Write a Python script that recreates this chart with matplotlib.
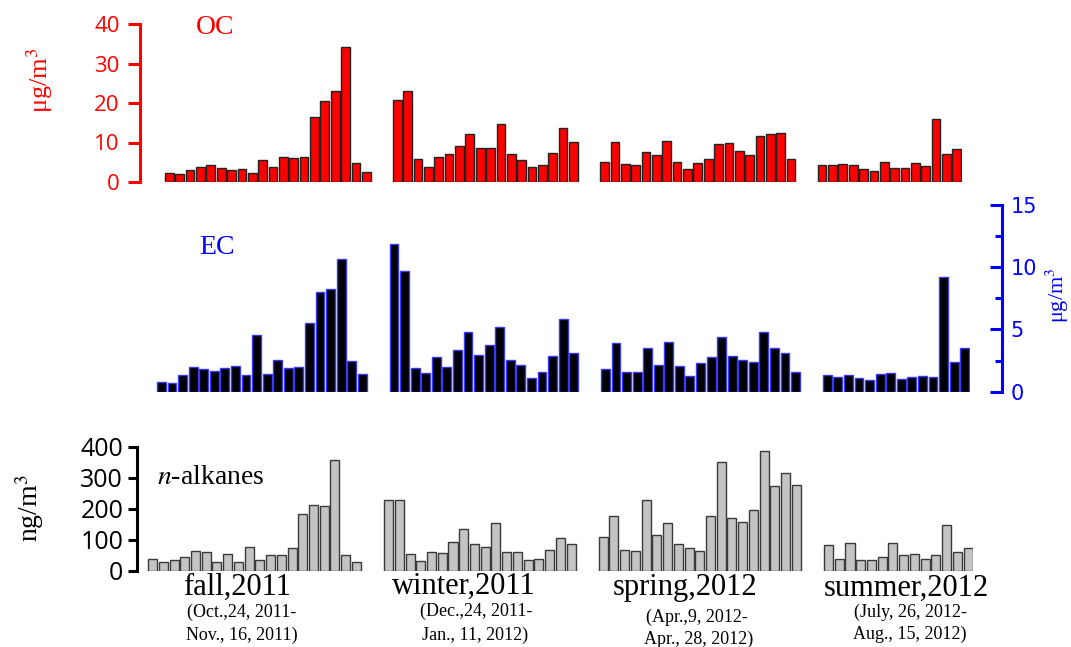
import numpy as np
import matplotlib
matplotlib.use("Agg")
import matplotlib.pyplot as plt

plt.rcParams['mathtext.fontset'] = 'stix'

# daily concentrations per season (OC, EC in ug/m3, n-alkanes in ng/m3)
oc_fall = [2.4, 1.9, 3.0, 3.8, 4.4, 3.5, 3.1, 3.2, 2.3, 5.6, 3.7, 6.4, 6.2, 6.3, 16.4, 20.6, 23.1, 34.1, 4.8, 2.5]
oc_winter = [20.7, 23.0, 5.9, 3.9, 6.3, 7.0, 9.1, 12.1, 8.5, 8.5, 14.8, 7.2, 5.6, 3.9, 4.3, 7.3, 13.7, 10.1]
oc_spring = [5.1, 10.1, 4.6, 4.4, 7.5, 6.8, 10.4, 5.1, 3.3, 4.9, 5.9, 9.7, 9.9, 7.9, 6.9, 11.6, 12.1, 12.3, 5.9]
oc_summer = [4.3, 4.4, 4.6, 4.4, 3.2, 2.9, 5.1, 3.6, 3.5, 4.9, 4.1, 16.0, 7.2, 8.4]

ec_fall = [0.75, 0.67, 1.34, 2.0, 1.82, 1.66, 1.9, 2.1, 1.37, 4.58, 1.45, 2.57, 1.9, 1.96, 5.5, 8.0, 8.27, 10.66, 2.44, 1.42]
ec_winter = [11.9, 9.72, 1.93, 1.47, 2.78, 1.98, 3.35, 4.76, 2.95, 3.75, 5.2, 2.57, 2.17, 1.1, 1.61, 2.9, 5.81, 3.08]
ec_spring = [1.8, 3.94, 1.61, 1.58, 3.53, 2.12, 4.02, 2.06, 1.24, 2.28, 2.79, 4.39, 2.84, 2.52, 2.39, 4.77, 3.49, 3.14, 1.61]
ec_summer = [1.34, 1.18, 1.34, 1.13, 0.92, 1.39, 1.53, 1.02, 1.21, 1.29, 1.21, 9.25, 2.39, 3.52]

alk_fall = [37, 29, 35, 44, 64, 60, 29, 54, 27, 75, 34, 50, 52, 73, 182, 213, 210, 357, 50, 29]
alk_winter = [227, 227, 55, 31, 60, 56, 93, 133, 86, 76, 153, 60, 60, 34, 39, 67, 104, 86]
alk_spring = [110, 175, 66, 63, 227, 116, 153, 86, 73, 63, 175, 350, 169, 156, 197, 385, 272, 316, 275]
alk_summer = [82, 37, 90, 34, 35, 43, 90, 50, 53, 39, 50, 146, 59, 72]

season_names = ['fall,2011', 'winter,2011', 'spring,2012', 'summer,2012']
season_dates = [('(Oct.,24, 2011-', 'Nov., 16, 2011)'),
                ('(Dec.,24, 2011-', 'Jan., 11, 2012)'),
                ('(Apr.,9, 2012-', 'Apr., 28, 2012)'),
                ('(July, 26, 2012-', 'Aug., 15, 2012)')]

# first slot of every season on the shared x index (two empty slots between seasons)
season_start = [0, 22, 42, 63]

W, H = 1071, 647
fig = plt.figure(figsize=(W / 100, H / 100), dpi=100)


def px_axes(left, bottom, right, top):
    return fig.add_axes([left / W, 1 - bottom / H, (right - left) / W, (bottom - top) / H])


def draw_bars(ax, seasons, face, edge, lw):
    for start, vals in zip(season_start, seasons):
        x = start + np.arange(len(vals))
        ax.bar(x, vals, width=0.84, color=face, edgecolor=edge, linewidth=lw)
    ax.set_xlim(-0.5, 76.5)
    ax.set_xticks([])
    ax.patch.set_visible(False)


serif = 'Liberation Serif'
red = '#ff0000'
blue = '#0000ff'

# OC panel
ax1 = px_axes(164.2, 182, 962, 24)
draw_bars(ax1, [oc_fall, oc_winter, oc_spring, oc_summer], red, '#222222', 1.0)
ax1.set_ylim(0, 40)
for s in ['top', 'right', 'bottom']:
    ax1.spines[s].set_visible(False)
ax1.spines['left'].set_position(('outward', 17.5))
ax1.spines['left'].set_bounds(0, 40)
ax1.spines['left'].set_color(red)
ax1.spines['left'].set_linewidth(2.2)
ax1.set_yticks([0, 10, 20, 30, 40])
ax1.tick_params(axis='y', colors=red, width=2.2, length=8.6, pad=6, labelsize=16)
for t in ax1.get_yticklabels():
    t.set_fontfamily('Open Sans')

# EC panel
ax2 = px_axes(156.2, 391.7, 970, 205)
draw_bars(ax2, [ec_fall, ec_winter, ec_spring, ec_summer], 'black', '#3a3aff', 1.0)
ax2.set_ylim(0, 15)
for s in ['top', 'left', 'bottom']:
    ax2.spines[s].set_visible(False)
ax2.spines['right'].set_position(('outward', 23))
ax2.spines['right'].set_bounds(0, 15)
ax2.spines['right'].set_color(blue)
ax2.spines['right'].set_linewidth(2.2)
ax2.yaxis.set_ticks_position('right')
ax2.set_yticks([0, 5, 10, 15])
ax2.set_yticks([2.5, 7.5, 12.5], minor=True)
ax2.tick_params(axis='y', which='major', direction='in', colors=blue, width=2.2, length=8.6,
                pad=6, labelsize=15)
ax2.tick_params(axis='y', which='minor', direction='in', colors=blue, width=2.2, length=5)

# n-alkanes panel
ax3 = px_axes(147.2, 570.7, 973.4, 446.7)
draw_bars(ax3, [alk_fall, alk_winter, alk_spring, alk_summer], '#c4c4c4', '#3a3a3a', 1.0)
ax3.set_ylim(0, 400)
for s in ['top', 'right', 'bottom']:
    ax3.spines[s].set_visible(False)
ax3.spines['left'].set_position(('outward', 7.3))
ax3.spines['left'].set_bounds(0, 400)
ax3.spines['left'].set_linewidth(2.2)
ax3.set_yticks([0, 100, 200, 300, 400])
ax3.tick_params(axis='y', width=2.2, length=6.5, pad=3.5, labelsize=18)
for t in ax3.get_yticklabels():
    t.set_fontfamily('Open Sans')


def ftext(x, y, s, **kw):
    fig.text(x / W, 1 - y / H, s, ha='center', va='center', family=serif, **kw)


ftext(215, 27, 'OC', color=red, fontsize=20)
ftext(217, 247, 'EC', color=blue, fontsize=20)
ftext(211, 477, r'$\it{n}$-alkanes', fontsize=20)

ftext(40, 80, r'μg/m$^{3}$', color=red, fontsize=19, rotation=90)
ftext(1057, 295, r'μg/m$^{3}$', color=blue, fontsize=16, rotation=90)
ftext(30, 508, r'ng/m$^{3}$', fontsize=20, rotation=90)

name_xy = [(237, 587), (464, 586), (685, 587), (906, 588)]
date_xy = [((242, 612), (242, 635)), ((476, 611), (475, 635)),
           ((697, 617), (699, 639)), ((910, 612), (910, 634))]
for name, (d1, d2), nxy, (p1, p2) in zip(season_names, season_dates, name_xy, date_xy):
    ftext(nxy[0], nxy[1], name, fontsize=22)
    ftext(p1[0], p1[1], d1, fontsize=13)
    ftext(p2[0], p2[1], d2, fontsize=13)

fig.savefig('out.png', dpi=100)
